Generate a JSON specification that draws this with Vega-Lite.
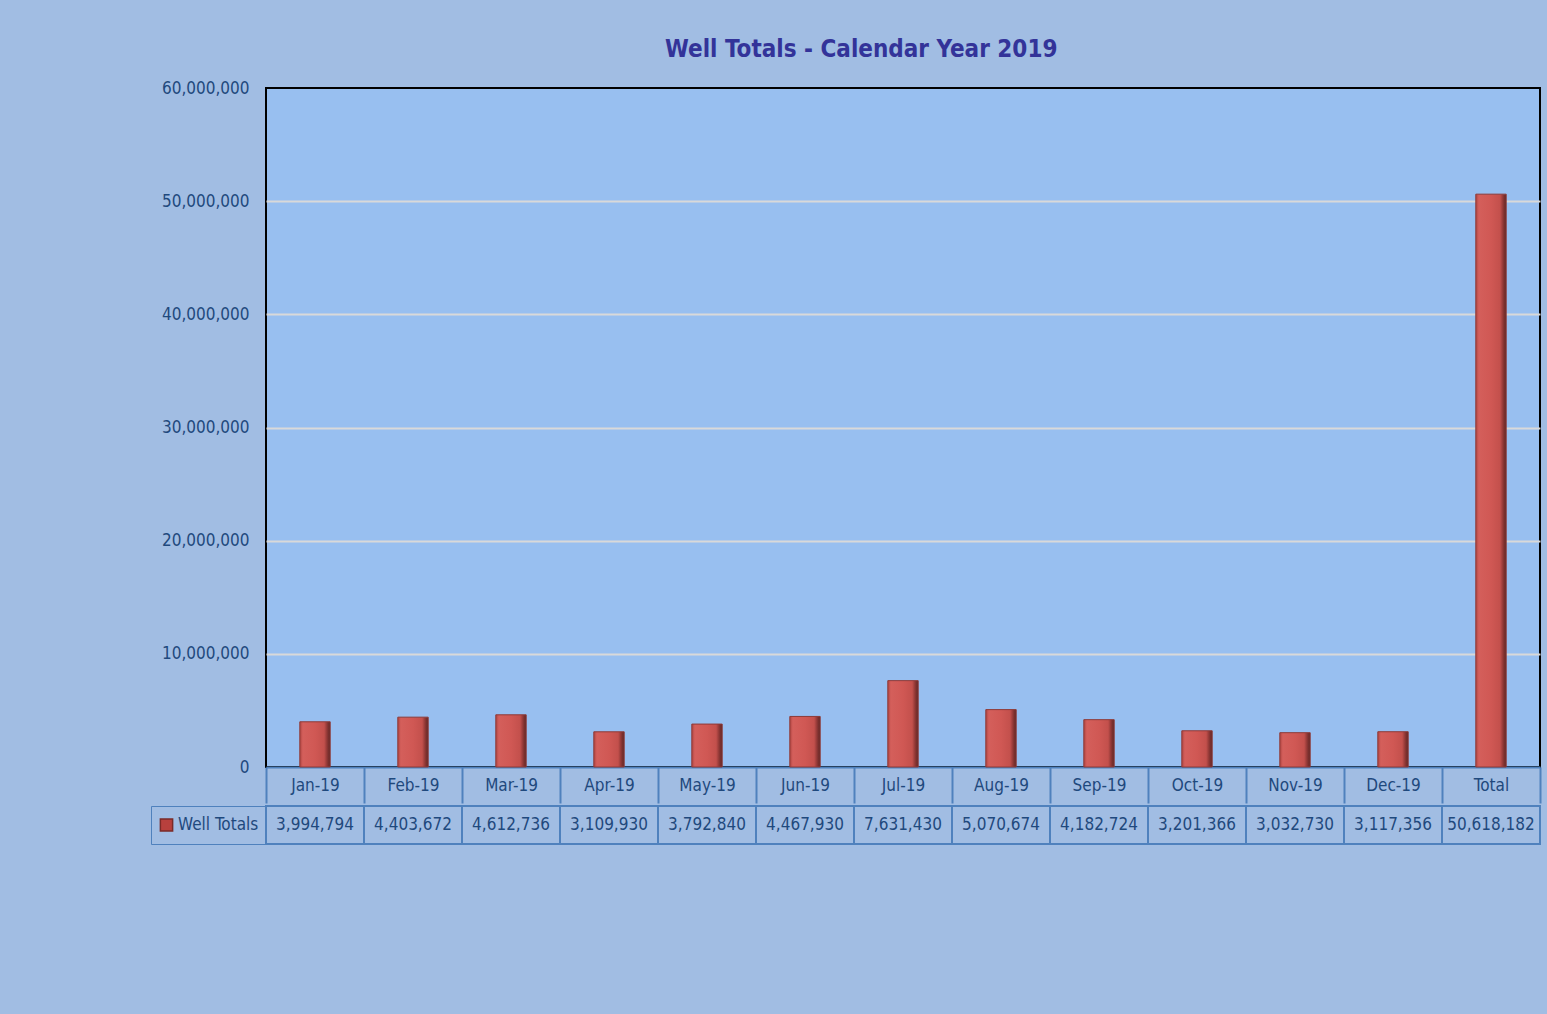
{
  "$schema": "https://vega.github.io/schema/vega-lite/v6.json",
  "background": "#A1BDE3",
  "padding": {"left": 150, "top": 38, "right": 7, "bottom": 171},
  "title": {
    "text": "Well Totals - Calendar Year 2019",
    "font": "DejaVu Sans Condensed, sans-serif",
    "fontSize": 24,
    "fontWeight": "bold",
    "color": "#333399",
    "anchor": "middle",
    "offset": 16,
    "dx": 15
  },
  "data": {
    "values": [
      {"period": "Jan-19", "total": 3994794},
      {"period": "Feb-19", "total": 4403672},
      {"period": "Mar-19", "total": 4612736},
      {"period": "Apr-19", "total": 3109930},
      {"period": "May-19", "total": 3792840},
      {"period": "Jun-19", "total": 4467930},
      {"period": "Jul-19", "total": 7631430},
      {"period": "Aug-19", "total": 5070674},
      {"period": "Sep-19", "total": 4182724},
      {"period": "Oct-19", "total": 3201366},
      {"period": "Nov-19", "total": 3032730},
      {"period": "Dec-19", "total": 3117356},
      {"period": "Total", "total": 50618182}
    ]
  },
  "spacing": 0,
  "resolve": {"scale": {"fill": "independent"}, "legend": {"fill": "independent"}},
  "vconcat": [
    {
      "width": 1274,
      "height": 679,
      "view": {"fill": "#98BFF0", "stroke": "#000000", "strokeWidth": 2},
      "mark": {
        "type": "bar",
        "width": {"band": 0.31},
        "stroke": "#8E3A37",
        "strokeWidth": 1,
        "color": {
          "gradient": "linear",
          "x1": 0, "x2": 1, "y1": 0, "y2": 0,
          "stops": [
            {"offset": 0, "color": "#B04542"},
            {"offset": 0.1, "color": "#D45F5B"},
            {"offset": 0.5, "color": "#D05854"},
            {"offset": 0.8, "color": "#C3504C"},
            {"offset": 0.9, "color": "#8E3735"},
            {"offset": 1, "color": "#5E2524"}
          ]
        }
      },
      "encoding": {
        "x": {
          "field": "period",
          "type": "nominal",
          "sort": null,
          "scale": {"paddingInner": 0, "paddingOuter": 0},
          "axis": {
            "title": null,
            "labelAngle": 0,
            "tickBand": "extent",
            "tickSize": 36,
            "tickWidth": 2,
            "tickColor": "#4F81BD",
            "domainColor": "#4F81BD",
            "domainWidth": 2,
            "labelPadding": -18,
            "labelBaseline": "middle",
            "labelFontSize": 17,
            "labelColor": "#1F497D",
            "labelFont": "DejaVu Sans Condensed, sans-serif"
          }
        },
        "y": {
          "field": "total",
          "type": "quantitative",
          "scale": {"domain": [0, 60000000], "nice": false},
          "axis": {
            "title": null,
            "values": [0, 10000000, 20000000, 30000000, 40000000, 50000000, 60000000],
            "format": ",.0f",
            "ticks": false,
            "domain": false,
            "labelPadding": 17,
            "labelFontSize": 17,
            "labelColor": "#1F497D",
            "labelFont": "DejaVu Sans Condensed, sans-serif",
            "gridColor": "#D9D9D9",
            "gridWidth": 2,
            "gridOpacity": {"condition": {"test": "datum.value <= 0 || datum.value >= 60000000", "value": 0}, "value": 1}
          }
        }
      }
    },
    {
      "width": 1274,
      "height": 38,
      "view": {"stroke": null, "fill": null},
      "layer": [
        {
          "mark": {"type": "rect", "fill": "transparent", "stroke": "#4F81BD", "strokeWidth": 2},
          "encoding": {
            "x": {"field": "period", "type": "nominal", "sort": null, "scale": {"paddingInner": 0, "paddingOuter": 0}, "axis": null}
          }
        },
        {
          "mark": {"type": "square", "size": 0},
          "encoding": {
            "x": {"field": "period", "type": "nominal", "sort": null, "axis": null},
            "fill": {
              "datum": "Well Totals",
              "scale": {"range": ["#B8403D"]},
              "legend": {
                "title": null,
                "orient": "left",
                "offset": 0,
                "padding": 7,
                "clipHeight": 24,
                "strokeColor": "#4F81BD",
                "symbolType": "square",
                "symbolSize": 150,
                "symbolOpacity": 1,
                "symbolStrokeColor": "#7A2A28",
                "labelOffset": 3,
                "labelFontSize": 17,
                "labelColor": "#1F497D",
                "labelFont": "DejaVu Sans Condensed, sans-serif"
              }
            }
          }
        },
        {
          "mark": {
            "type": "text",
            "fontSize": 17,
            "color": "#1F497D",
            "font": "DejaVu Sans Condensed, sans-serif",
            "baseline": "middle"
          },
          "encoding": {
            "x": {"field": "period", "type": "nominal", "sort": null, "axis": null},
            "text": {"field": "total", "type": "quantitative", "format": ","}
          }
        }
      ]
    }
  ]
}
